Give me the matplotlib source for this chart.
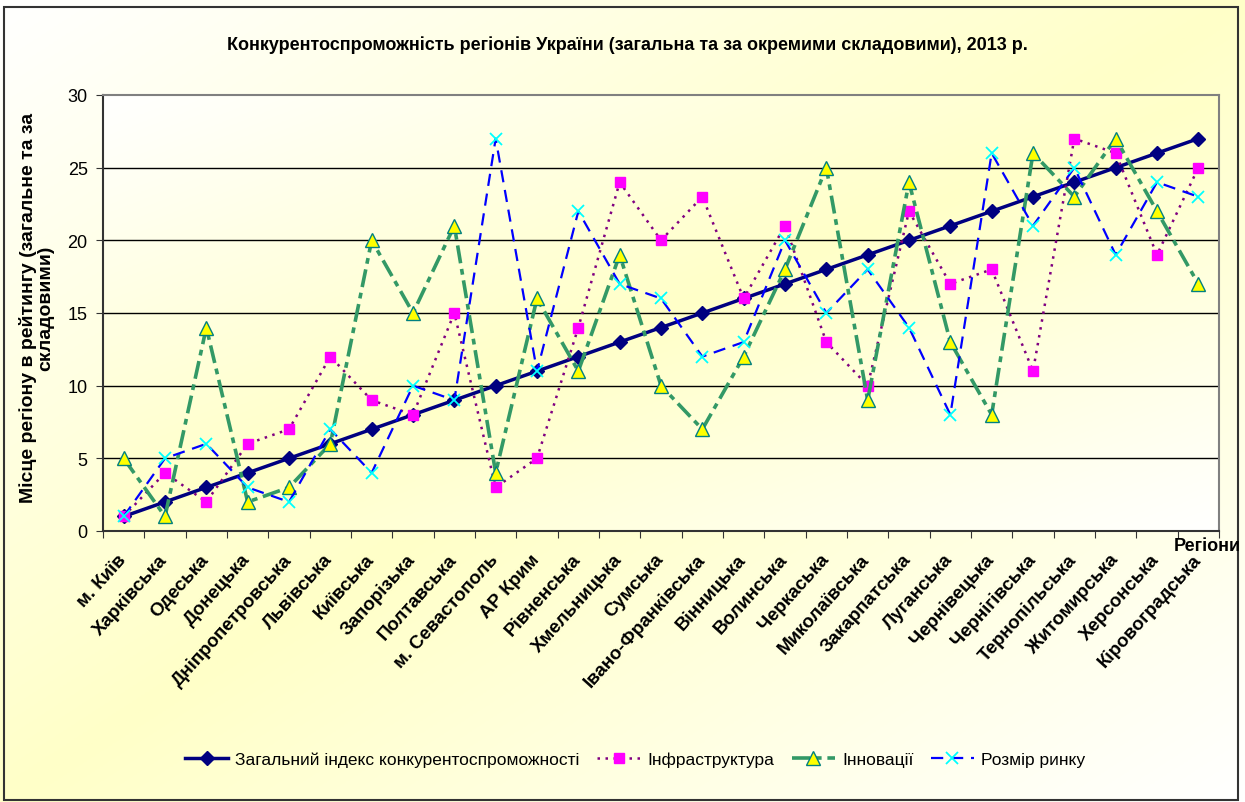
import numpy as np
import matplotlib
matplotlib.use("Agg")
import matplotlib.pyplot as plt
import matplotlib.transforms as mtransforms
from matplotlib.colors import LinearSegmentedColormap
from matplotlib.patches import Rectangle

plt.rcParams['font.family'] = ['Liberation Sans', 'DejaVu Sans']

regions = ['м. Київ', 'Харківська', 'Одеська', 'Донецька', 'Дніпропетровська',
           'Львівська', 'Київська', 'Запорізька', 'Полтавська', 'м. Севастополь',
           'АР Крим', 'Рівненська', 'Хмельницька', 'Сумська', 'Івано-Франківська',
           'Вінницька', 'Волинська', 'Черкаська', 'Миколаївська', 'Закарпатська',
           'Луганська', 'Чернівецька', 'Чернігівська', 'Тернопільська',
           'Житомирська', 'Херсонська', 'Кіровоградська']
general = [1, 2, 3, 4, 5, 6, 7, 8, 9, 10, 11, 12, 13, 14, 15, 16, 17, 18, 19,
           20, 21, 22, 23, 24, 25, 26, 27]
infrastructure = [1, 4, 2, 6, 7, 12, 9, 8, 15, 3, 5, 14, 24, 20, 23, 16, 21,
                  13, 10, 22, 17, 18, 11, 27, 26, 19, 25]
innovation = [5, 1, 14, 2, 3, 6, 20, 15, 21, 4, 16, 11, 19, 10, 7, 12, 18, 25,
              9, 24, 13, 8, 26, 23, 27, 22, 17]
market = [1, 5, 6, 3, 2, 7, 4, 10, 9, 27, 11, 22, 17, 16, 12, 13, 20, 15, 18,
          14, 8, 26, 21, 25, 19, 24, 23]
yticks = [0, 5, 10, 15, 20, 25, 30]

W, H = 1245, 803
fig = plt.figure(figsize=(W / 100, H / 100), dpi=100)

# diagonal gradient: white corners top-left / bottom-right, yellow along the other diagonal
cmap = LinearSegmentedColormap.from_list('bg', ['#FFFFFF', '#FFFFC8'])
u, v = np.meshgrid(np.linspace(0, 1, 300), np.linspace(0, 1, 300))
grad = 1 - np.abs(u + v - 1)

bg = fig.add_axes([0, 0, 1, 1], zorder=-10)
bg.imshow(grad, cmap=cmap, aspect='auto', extent=[0, 1, 0, 1], origin='upper',
          vmin=0, vmax=1)
bg.add_patch(Rectangle((4 / W, 2 / H), (1238 - 4) / W, (795 - 2) / H,
                       fill=False, ec='#333333', lw=1.5, transform=bg.transAxes))
bg.set_xlim(0, 1)
bg.set_ylim(0, 1)
bg.axis('off')

ax = fig.add_axes([103 / W, 1 - 532 / H, (1219 - 103) / W, (532 - 96) / H])
ax.imshow(grad, cmap=cmap, aspect='auto', extent=[0.5, 27.5, 0, 30],
          origin='upper', vmin=0, vmax=1, zorder=0)

x = np.arange(1, len(regions) + 1)

ax.plot(x, general, color='#000080', lw=2.5, marker='D', ms=7,
        mfc='#000080', mec='#000080', zorder=3,
        label='Загальний індекс конкурентоспроможності')
ax.plot(x, infrastructure, color='#800080', lw=1.8, linestyle=(0, (1, 2.2)),
        marker='s', ms=7, mfc='#FF00FF', mec='#FF00FF', zorder=4,
        label='Інфраструктура')
ax.plot(x, innovation, color='#339966', lw=2.6, dashes=(5, 1.6, 1.6, 1.6),
        marker='^', ms=10, mfc='#FFFF00', mec='#008080', mew=1, zorder=5,
        label='Інновації')
ax.plot(x, market, color='#0000FF', lw=1.6, dashes=(5.5, 3.5),
        marker='x', ms=8, mec='#00FFFF', mew=1.3, zorder=6,
        label='Розмір ринку')

ax.set_xlim(0.5, 27.5)
ax.set_ylim(0, 30)
ax.set_yticks(yticks)
ax.tick_params(axis='y', labelsize=13, direction='out', length=5,
               color='#333333', pad=6)
for yv in yticks[1:-1]:
    ax.axhline(yv, color='black', lw=1, zorder=1)

ax.set_xticks(np.arange(0.5, 28, 1))
ax.set_xticklabels([])
ax.tick_params(axis='x', which='major', direction='out', length=5, color='#333333')
ax.set_xticks(x, minor=True)
labels = ax.set_xticklabels(regions, minor=True, rotation=48, ha='right',
                            va='top', rotation_mode='anchor', fontsize=13.5,
                            fontweight='bold')
ax.tick_params(axis='x', which='minor', length=0, pad=14)
shift = mtransforms.ScaledTranslation(-7 / 100, 0, fig.dpi_scale_trans)
for lab in labels:
    lab.set_transform(lab.get_transform() + shift)

for s in ax.spines.values():
    s.set_color('#808080')
    s.set_linewidth(1.5)
ax.spines['left'].set_color('#333333')
ax.spines['bottom'].set_color('#333333')

fig.text(627 / W, 1 - 45 / H,
         'Конкурентоспроможність регіонів України (загальна та за окремими складовими), 2013 р.',
         ha='center', va='center', fontsize=13, fontweight='bold')
fig.text(37 / W, 1 - 308 / H,
         'Місце регіону в рейтингу (загальне та за\nскладовими)',
         ha='center', va='center', rotation=90, fontsize=14, fontweight='bold',
         linespacing=1.0)
fig.text(1207 / W, 1 - 547 / H, 'Регіони', ha='center', va='center',
         fontsize=13, fontweight='bold')

leg = fig.legend(loc='center', bbox_to_anchor=(635 / W, 1 - 760 / H), ncol=4,
                 fontsize=12.5, frameon=True, fancybox=False, framealpha=0,
                 edgecolor='black', handlelength=2.5, columnspacing=1.0,
                 handletextpad=0.4, borderpad=0.8)
leg.get_frame().set_linewidth(1.2)

fig.savefig('out.png', dpi=100)
